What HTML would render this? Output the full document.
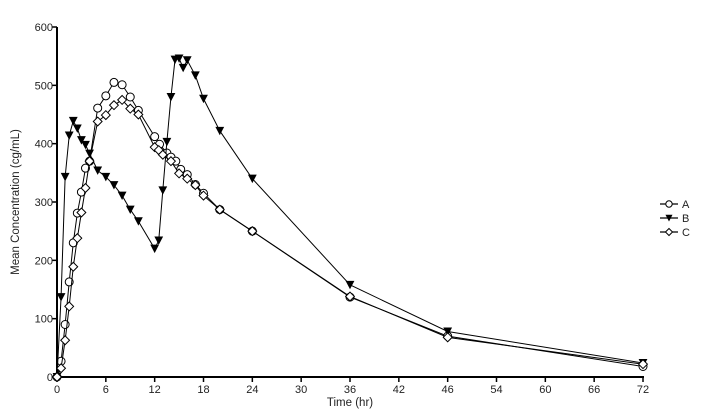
<!DOCTYPE html>
<html><head><meta charset="utf-8"><style>
body{margin:0;background:#fff;}
svg{display:block;font-family:"Liberation Sans",sans-serif;}
</style></head><body>
<svg id="chart" width="706" height="413" viewBox="0 0 706 413">
<g id="axes"></g>
<g id="series"></g>
<g id="legend"></g>
</svg>
<script>
const xTicks=[0,6,12,18,24,30,36,42,48,54,60,66,72];
const xTickLabels=["0","6","12","18","24","30","36","42","46","54","60","66","72"];
const yTicks=[0,100,200,300,400,500,600];
const timesA=[0,0.5,1,1.5,2,2.5,3,3.5,4,5,6,7,8,9,10,12,12.6,13.5,14,14.6,15.2,16,17,18,20,24,36,48,72];
const valuesA=[0,27,90,163,230,281,317,358,370,461,482,505,501,480,457,412,399,384,377,370,356,347,330,315,287,250,137,70,18];
const timesB=[0,0.5,1,1.5,2,2.5,3,3.5,4,5,6,7,8,9,10,12,12.5,13,13.5,14,14.5,15,15.5,16,17,18,20,24,36,48,72];
const valuesB=[0,137,343,414,439,426,406,398,383,354,343,329,311,287,267,220,234,320,403,480,544,546,530,543,517,477,422,340,158,78,24];
const timesC=[0,0.5,1,1.5,2,2.5,3,3.5,4,5,6,7,8,9,10,12,12.5,13,14,15,16,17,18,20,24,36,48,72];
const valuesC=[0,15,63,121,189,238,282,324,370,438,449,466,475,460,450,394,389,381,370,349,340,329,311,287,250,138,68,22];
const seriesNames=["A","B","C"];

const X0=57,X1=643,Y0=377,Y1=27;
const xs=t=>X0+t*(X1-X0)/72;
const ys=v=>Y0-v*(Y0-Y1)/600;
const NS="http://www.w3.org/2000/svg";
function mk(tag,attrs,parent){const e=document.createElementNS(NS,tag);for(const k in attrs)e.setAttribute(k,attrs[k]);parent.appendChild(e);return e;}
const axes=document.getElementById('axes');
let l=mk('line',{x1:X0,y1:Y0,x2:X1+1,y2:Y0,stroke:'#000','stroke-width':2},axes);


l=mk('line',{x1:X0,y1:Y0+1,x2:X0,y2:Y1,stroke:'#000','stroke-width':2},axes);


xTicks.forEach((t,i)=>{
 const tk=mk('line',{x1:xs(t),y1:Y0,x2:xs(t),y2:Y0+5,stroke:'#000','stroke-width':1.5},axes);
 
 
 const tx=mk('text',{x:xs(t),y:Y0+16,'text-anchor':'middle','font-size':11,fill:'#222'},axes);
 tx.textContent=xTickLabels[i];
 
 
});
yTicks.forEach(v=>{
 const tk=mk('line',{x1:X0-5,y1:ys(v),x2:X0,y2:ys(v),stroke:'#000','stroke-width':1.5},axes);
 
 
 const tx=mk('text',{x:X0-4,y:ys(v)+4,'text-anchor':'end','font-size':11,fill:'#222'},axes);
 tx.textContent=String(v);
 
 
});
let t=mk('text',{x:(X0+X1)/2,y:406,'text-anchor':'middle','font-size':11.5,fill:'#222'},axes);
t.textContent='Time (hr)';


t=mk('text',{x:0,y:0,'text-anchor':'middle','font-size':11.5,fill:'#222',transform:'translate(19,202) rotate(-90)'},axes);
t.textContent='Mean Concentration (cg/mL)';



function marker(kind,x,y,r,parent){
 if(kind==='A')return mk('circle',{cx:x,cy:y,r:r,fill:'#fff',stroke:'#000','stroke-width':1},parent);
 if(kind==='B')return mk('polygon',{points:`${x-r*1.1},${y-r} ${x+r*1.1},${y-r} ${x},${y+r*1.1}`,fill:'#000'},parent);
 return mk('polygon',{points:`${x},${y-r*1.1} ${x+r*1.1},${y} ${x},${y+r*1.1} ${x-r*1.1},${y}`,fill:'#fff',stroke:'#000','stroke-width':1},parent);
}
const sg=document.getElementById('series');
const data={A:[timesA,valuesA],B:[timesB,valuesB],C:[timesC,valuesC]};
seriesNames.forEach(n=>{
 const [tt,vv]=data[n];
 const g=mk('g',{},sg);
 
 
 const p=mk('polyline',{points:tt.map((x,i)=>xs(x)+','+ys(vv[i])).join(' '),fill:'none',stroke:'#000','stroke-width':1},g);
 
 
 tt.forEach((x,i)=>{
  const m=marker(n,xs(x),ys(vv[i]),4,g);
  
  
 });
});
const lg=document.getElementById('legend');
seriesNames.forEach((n,i)=>{
 const y=204+i*14;
 const g=mk('g',{},lg);
 
 
 mk('line',{x1:660,y1:y,x2:678,y2:y,stroke:'#000','stroke-width':1.2},g);
 marker(n,669,y,3.2,g);
 const tx=mk('text',{x:682,y:y+4,'font-size':11,fill:'#222'},g);
 tx.textContent=n;
});
</script>
</body></html>
